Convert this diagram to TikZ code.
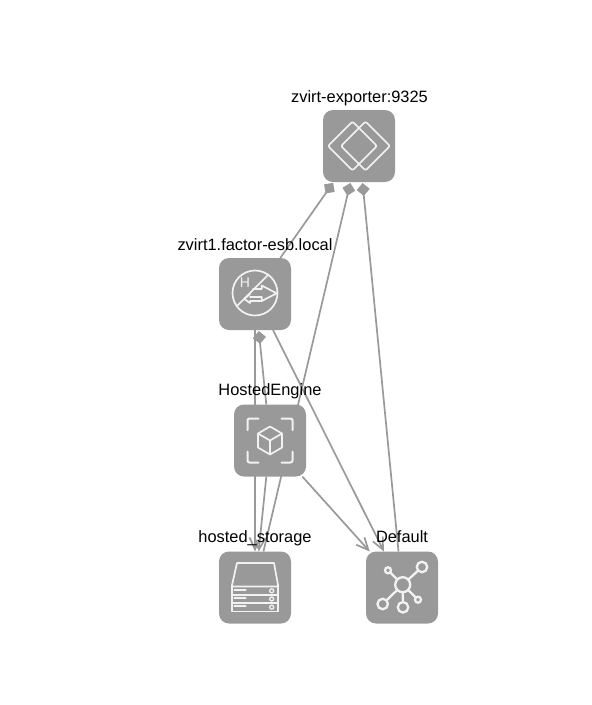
\documentclass[tikz,border=0pt]{standalone}
\usepackage{fontspec}
\setmainfont{Liberation Sans}
\usepackage{tikz}
\usetikzlibrary{
    arrows.meta,
    backgrounds
}
\definecolor{tilegray}{HTML}{999999}
\definecolor{icongray}{HTML}{F2F2F2}
\tikzset{
    tile/.style={fill=tilegray, rounded corners=10pt, minimum size=72pt, inner sep=0pt, outer sep=0pt},
    caption/.style={anchor=base, inner sep=0pt, font=\fontsize{16.4}{18}\selectfont},
    icon/.style={draw=icongray, line width=1.7pt, line join=round, line cap=round},
    spot/.style={circle, draw=icongray, line width=2.3pt, inner sep=0pt, outer sep=0pt},
    flow/.style={draw=tilegray, line width=1.7pt, -{Straight Barb[length=12pt,width=11pt]}},
    owned/.style={draw=tilegray, line width=1.7pt, shorten <=1pt, {Diamond[length=13pt,width=13pt,fill=tilegray]}-}
}

\begin{document}
\begin{tikzpicture}[x=1pt,y=-1pt]
\useasboundingbox (0,0) rectangle (592,705);

% Tiles
\node[tile] (exporter) at (359,146) {};
\node[tile] (host) at (255,294) {};
\node[tile] (engine) at (270,440.5) {};
\node[tile] (storage) at (255,587.5) {};
\node[tile] (network) at (402,587.5) {};

% Captions
\node[caption] (exporterlabel) at (359.5,102) {zvirt-exporter:9325};
\node[caption] (hostlabel) at (255,250) {zvirt1.factor-esb.local};
\node[caption] (enginelabel) at (270,395.5) {HostedEngine};
\node[caption] (storagelabel) at (255,542.8) {hosted\_storage};
\node[caption] (networklabel) at (402,542.8) {Default};

% Connectors
\begin{pgfonlayer}{background}
\draw[owned] (exporter) -- (host);
\draw[owned] (exporter) -- (storage);
\draw[owned] (exporter) -- (network);
\draw[owned] (host) -- (engine);
\draw[flow] (host) -- (storage);
\draw[flow] (host) -- (network);
\draw[flow] (engine) -- (storage);
\draw[flow] (engine) -- (network);
\end{pgfonlayer}

% Exporter icon
\begin{scope}[shift={(exporter)}]
\draw[icon, rounded corners=2pt] (-31,0) -- (-6.5,-24.5) -- (18,0) -- (-6.5,24.5) -- cycle;
\draw[icon, rounded corners=2pt] (-18,0) -- (6.5,-24.5) -- (31,0) -- (6.5,24.5) -- cycle;
\end{scope}

% Host icon
\begin{scope}[shift={(host)}]
\draw[icon] (0,-1) circle (22.5);
\draw[icon] (-18,12) -- (13.5,-19.5);
\draw[icon] (-2,-5) -- (6.7,-5) -- (6.7,-8.5) -- (21.7,-0.7) -- (6.7,7) -- (6.7,3) -- (-5,3);
\draw[icon] (-5,0) -- (-10.7,5) -- (-5,9) -- (-5,7) -- (6.7,7);
\node[text=icongray, inner sep=0pt, font=\fontsize{14}{14}\selectfont] (hostletter) at (-10,-11.5) {H};
\end{scope}

% Engine icon
\begin{scope}[shift={(engine)}]
\draw[icon, line width=2pt, rounded corners=2pt] (-22.5,-10.5) -- (-22.5,-22) -- (-11.5,-22);
\draw[icon, line width=2pt, rounded corners=2pt] (11.5,-22) -- (22.5,-22) -- (22.5,-10.5);
\draw[icon, line width=2pt, rounded corners=2pt] (-22.5,11) -- (-22.5,22) -- (-11.5,22);
\draw[icon, line width=2pt, rounded corners=2pt] (11.5,22) -- (22.5,22) -- (22.5,11);
\draw[icon] (0,-14) -- (12,-7) -- (12,7) -- (0,14) -- (-12,7) -- (-12,-7) -- cycle;
\draw[icon] (-12,-7) -- (0,0) -- (12,-7);
\draw[icon] (0,0) -- (0,14);
\end{scope}

% Storage icon
\begin{scope}[shift={(storage)}]
\draw[icon] (-18,-24.5) -- (19,-24.5) -- (23.3,-1) -- (-23.3,-1) -- cycle;
\draw[icon] (-23.3,-1) rectangle (23.3,24);
\draw[icon] (-23.3,7.5) -- (23.3,7.5);
\draw[icon] (-23.3,15.5) -- (23.3,15.5);
\foreach \rowy in {2.7,10.7,18.7} {
    \draw[icon, line width=2pt] (-20.7,\rowy) -- (-9.3,\rowy);
}
\foreach \rowy in {3.3,11.5,19.7} {
    \draw[icon, line width=1.3pt] (16.7,\rowy) circle (2);
}
\end{scope}

% Network icon
\begin{scope}[shift={(network)}]
\node[spot, minimum size=15pt] (hub) at (0.7,-2.8) {};
\node[spot, minimum size=10.5pt] (spota) at (20,-20.5) {};
\node[spot, minimum size=6pt] (spotb) at (-14,-17.2) {};
\node[spot, minimum size=10.5pt] (spotc) at (-19.3,16.5) {};
\node[spot, minimum size=10.5pt] (spotd) at (1,19.8) {};
\node[spot, minimum size=6pt] (spote) at (16,12.2) {};
\draw[icon, line width=2.3pt] (hub) -- (spota);
\draw[icon, line width=2.3pt] (hub) -- (spotb);
\draw[icon, line width=2.3pt] (hub) -- (spotc);
\draw[icon, line width=2.3pt] (hub) -- (spotd);
\draw[icon, line width=2.3pt] (hub) -- (spote);
\end{scope}

\end{tikzpicture}
\end{document}
